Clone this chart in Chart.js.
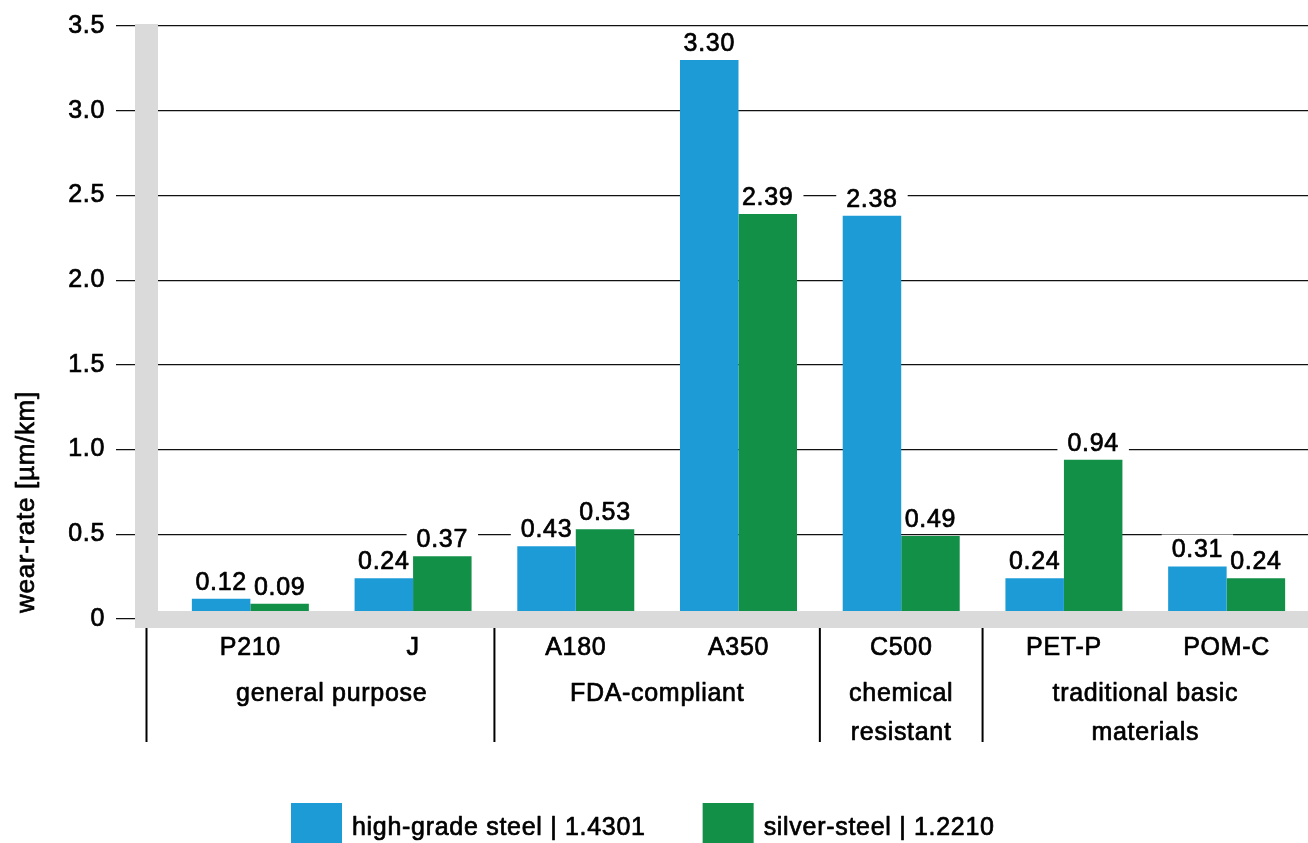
<!DOCTYPE html>
<html>
<head>
<meta charset="utf-8">
<title>Wear rate by material</title>
<script src="https://cdn.jsdelivr.net/npm/chart.js@4/dist/chart.umd.min.js"></script>
<style>
  html, body { margin: 0; padding: 0; background: #ffffff; }
  #wrap { width: 1308px; height: 843px; position: relative; }
</style>
</head>
<body>
<div id="wrap"><canvas id="chart" width="1308" height="843"></canvas></div>
<script>
// ---- data ----
const materials = ['P210', 'J', 'A180', 'A350', 'C500', 'PET-P', 'POM-C'];
const highGradeSteel = [0.12, 0.24, 0.43, 3.30, 2.38, 0.24, 0.31];
const silverSteel = [0.09, 0.37, 0.53, 2.39, 0.49, 0.94, 0.24];
const seriesNames = ['high-grade steel | 1.4301', 'silver-steel | 1.2210'];
const groupLabels = [['general purpose'], ['FDA-compliant'], ['chemical', 'resistant'], ['traditional basic', 'materials']];
const groupSizes = [2, 2, 1, 2];
const yTicks = [0, 0.5, 1.0, 1.5, 2.0, 2.5, 3.0, 3.5];
const yTitle = 'wear-rate [µm/km]';

// ---- styling ----
const FONT = "'Liberation Sans', Arial, Helvetica, sans-serif";
const FONT_SIZE = 25;
const BLUE = '#1d9bd7';
const GREEN = '#129047';
const BAND = '#d9dad9';
const INK = '#000000';
const SPACING = '0.7px';
const STROKE = 0.7;         // slight stroke to give the text a medium weight

const AXIS_LEFT = 169;      // left edge of the plotting area
const BAND_X0 = 135, BAND_X1 = 158;

function valueText(v) { return v.toFixed(2); }

function inkText(ctx, text, x, y) {
  ctx.lineWidth = STROKE;
  ctx.strokeStyle = INK;
  ctx.lineJoin = 'round';
  ctx.strokeText(text, x, y);
  ctx.fillStyle = INK;
  ctx.fillText(text, x, y);
}

const decorations = {
  id: 'decorations',
  beforeDraw(chart) {
    chart.ctx.letterSpacing = SPACING;
  },
  // white plates behind the value labels so they interrupt the grid lines
  beforeDatasetsDraw(chart) {
    const ctx = chart.ctx;
    ctx.save();
    ctx.letterSpacing = SPACING;
    ctx.font = `${FONT_SIZE}px ${FONT}`;
    ctx.fillStyle = '#ffffff';
    chart.data.datasets.forEach((ds, di) => {
      chart.getDatasetMeta(di).data.forEach((bar, i) => {
        const t = valueText(ds.data[i]);
        const w = ctx.measureText(t).width;
        const base = bar.y - 9;
        ctx.fillRect(bar.x - w / 2 - 10, base - 23, w + 20, 28);
      });
    });
    ctx.restore();
  },
  afterDatasetsDraw(chart) {
    const ctx = chart.ctx;
    const area = chart.chartArea;
    const xs = chart.scales.x, ys = chart.scales.y;
    const y0 = ys.getPixelForValue(0);

    ctx.save();
    // gray axis bands
    ctx.fillStyle = BAND;
    ctx.fillRect(BAND_X0, area.top - 2, BAND_X1 - BAND_X0, y0 + 9 - (area.top - 2));
    ctx.fillRect(BAND_X0, y0 - 8, chart.width - BAND_X0, 17);

    // value labels
    ctx.letterSpacing = SPACING;
    ctx.font = `${FONT_SIZE}px ${FONT}`;
    ctx.textAlign = 'center';
    ctx.textBaseline = 'alphabetic';
    chart.data.datasets.forEach((ds, di) => {
      chart.getDatasetMeta(di).data.forEach((bar, i) => {
        inkText(ctx, valueText(ds.data[i]), bar.x, bar.y - 9);
      });
    });

    // group separators and group names
    const lineTop = y0 + 9, lineBottom = 742;
    let start = 0;
    const seps = [(BAND_X0 + BAND_X1) / 2];
    groupSizes.forEach((n, g) => {
      const first = xs.getPixelForValue(start);
      const last = xs.getPixelForValue(start + n - 1);
      const cx = (first + last) / 2;
      groupLabels[g].forEach((line, k) => {
        inkText(ctx, line, cx, 701 + k * 39);
      });
      if (start + n < materials.length) {
        seps.push((last + xs.getPixelForValue(start + n)) / 2);
      }
      start += n;
    });
    ctx.strokeStyle = INK;
    ctx.lineWidth = 2;
    seps.forEach(sx => {
      ctx.beginPath();
      ctx.moveTo(sx, lineTop);
      ctx.lineTo(sx, lineBottom);
      ctx.stroke();
    });

    // value-axis title, rotated, reading upwards from the bottom of the axis
    ctx.save();
    ctx.font = `26px ${FONT}`;
    ctx.translate(27, y0 - 6);
    ctx.rotate(-Math.PI / 2);
    ctx.textAlign = 'left';
    ctx.textBaseline = 'middle';
    inkText(ctx, yTitle, 0, 0);
    ctx.restore();
    ctx.restore();
  },
  afterDraw(chart) {
    // legend row
    const ctx = chart.ctx;
    ctx.save();
    ctx.letterSpacing = SPACING;
    ctx.font = `${FONT_SIZE}px ${FONT}`;
    ctx.textBaseline = 'alphabetic';
    ctx.textAlign = 'left';
    let x = 291;
    chart.data.datasets.forEach(ds => {
      ctx.fillStyle = ds.backgroundColor;
      ctx.fillRect(x, 803, 51, 46);
      const tx = x + 61;
      const w = ctx.measureText(ds.label).width;
      inkText(ctx, ds.label, tx, 835);
      x = tx + w + 57;
    });
    ctx.restore();
  }
};

new Chart(document.getElementById('chart'), {
  type: 'bar',
  data: {
    labels: materials,
    datasets: [
      { label: seriesNames[0], data: highGradeSteel, backgroundColor: BLUE,
        categoryPercentage: 0.719, barPercentage: 1.0, borderWidth: 0 },
      { label: seriesNames[1], data: silverSteel, backgroundColor: GREEN,
        categoryPercentage: 0.719, barPercentage: 1.0, borderWidth: 0 }
    ]
  },
  options: {
    responsive: false,
    animation: false,
    devicePixelRatio: 1,
    layout: { padding: { top: 23, right: 0, bottom: 0, left: 0 } },
    plugins: {
      legend: { display: false },
      tooltip: { enabled: false }
    },
    scales: {
      x: {
        type: 'category',
        offset: true,
        grid: { display: false, drawTicks: false },
        border: { display: false },
        afterFit(scale) { scale.height = 843 - 619; },
        ticks: {
          autoSkip: false,
          maxRotation: 0,
          padding: 14,
          color: INK,
          textStrokeColor: INK,
          textStrokeWidth: STROKE,
          font: { family: FONT, size: FONT_SIZE }
        }
      },
      y: {
        min: 0,
        max: 3.5,
        afterBuildTicks(scale) { scale.ticks = yTicks.map(v => ({ value: v })); },
        afterFit(scale) { scale.width = AXIS_LEFT; },
        border: { display: false },
        grid: { color: '#111111', lineWidth: 1.2, tickLength: AXIS_LEFT - 116 },
        ticks: {
          padding: 11,
          color: INK,
          textStrokeColor: INK,
          textStrokeWidth: STROKE,
          font: { family: FONT, size: FONT_SIZE },
          callback: v => (v === 0 ? '0' : v.toFixed(1))
        }
      }
    }
  },
  plugins: [decorations]
});
</script>
</body>
</html>
